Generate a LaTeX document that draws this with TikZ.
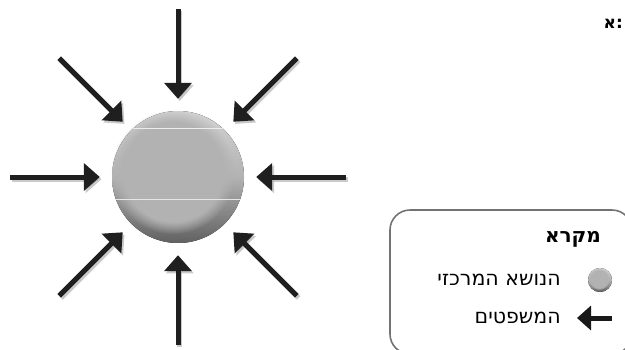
\documentclass[tikz,border=0pt]{standalone}
\usepackage{fontspec}
\setmainfont{DejaVu Sans}
\newfontfamily\hebfont[Script=Hebrew]{DejaVu Sans}
\TeXXeTstate=1
\usetikzlibrary{arrows.meta,fadings,calc}
\tikzset{
  arr/.style={line width=5pt, draw=black!88, -{Triangle[width=27pt,length=16pt]}},
  arrshadow/.style={line width=5pt, draw=black!35, opacity=0.6, -{Triangle[width=27pt,length=16pt]}, transform canvas={shift={(1.8,2.2)}}},
  legarr/.style={line width=5pt, draw=black!90, -{Triangle[width=24pt,length=14pt]}},
  legtext/.style={anchor=east, inner sep=0pt, font=\hebfont\fontsize{20.5}{24}\selectfont},
  legtitle/.style={anchor=east, inner sep=0pt, font=\hebfont\bfseries\fontsize{20}{24}\selectfont},
  legbox/.style={draw=black!55, line width=1.6pt, rounded corners=20pt},
}
\begin{document}
\begin{tikzpicture}[x=1pt,y=-1pt]
\useasboundingbox (0,0) rectangle (625,349);
\clip (0,0) rectangle (625,349);
% central sphere
\node[circle, minimum size=132pt, inner sep=0pt] (sph) at (178,177) {};
\fill[top color=gray!35, bottom color=black!62, middle color=gray!60] (sph.center) circle (66);
\fill[gray!60, path fading=circle with fuzzy edge 20 percent] ($(sph.center)+(-5,-5)$) circle (62);
\begin{scope}
  \clip (sph.center) circle (66);
  \draw[white!85!gray, line width=0.6pt] (100,128) -- (260,128);
  \draw[white!80!gray, line width=0.6pt] (100,199) -- (260,199);
\end{scope}
% arrows
\foreach \a [count=\i] in {0,45,...,315} {
  \coordinate (t\i) at ($(sph.center)+(\a:168)$);
  \draw[arrshadow, shorten >=12pt] (t\i) -- (sph);
  \draw[arr, shorten >=12pt] (t\i) -- (sph);
}
% top-right label
\node[anchor=east, inner sep=0pt, font=\hebfont\bfseries\fontsize{17}{20}\selectfont] (lbl) at (623,24) {:א};
% legend
\draw[legbox] (390,210) rectangle (632,354);
\node[legtitle] (ttl) at (601,239) {\beginR מקרא\endR};
\node[circle, minimum size=24pt, inner sep=0pt] (ls) at (600,280) {};
\fill[top color=gray!35, bottom color=black!62, middle color=gray!60] (ls.center) circle (12);
\fill[gray!60, path fading=circle with fuzzy edge 20 percent] ($(ls.center)+(-1,-1)$) circle (11);
\node[legtext] (l1) at (561,280) {\beginR הנושא המרכזי\endR};
\coordinate (la) at (612,318);
\coordinate (lb) at (577,318);
\draw[legarr] (la) -- (lb);
\node[legtext] (l2) at (561,318) {\beginR המשפטים\endR};
\end{tikzpicture}
\end{document}
